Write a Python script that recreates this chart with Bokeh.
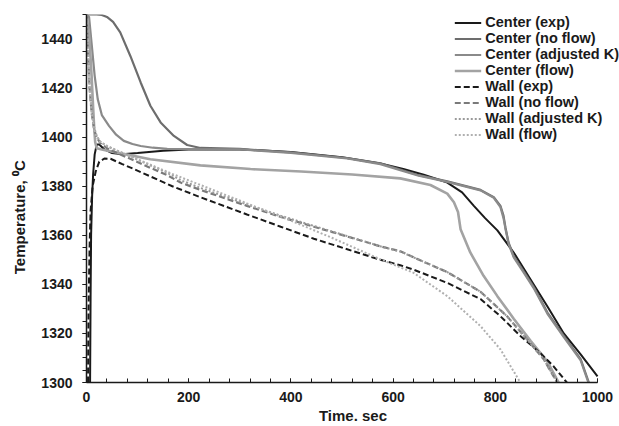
from bokeh.plotting import figure
from bokeh.models import Legend, LegendItem, Range1d, SingleIntervalTicker
from bokeh.embed import file_html
from bokeh.resources import INLINE

# ---- data ----
ce_t = [7, 8, 9, 11, 13, 16, 20, 25, 35, 50, 70, 100, 150, 200, 300, 400, 500, 575, 620, 660, 706, 735, 758, 780, 804, 836, 869, 902, 934, 967, 1000]
ce_T = [1300, 1335, 1360, 1376, 1385, 1393, 1397, 1397, 1395, 1393.5, 1393, 1393.5, 1394.5, 1395, 1395, 1394, 1391.8, 1389.3, 1387, 1384.7, 1381.5, 1377.5, 1372, 1367, 1362, 1353, 1342, 1331, 1320, 1311.5, 1302.5]

cn_t = [0, 20, 30, 40, 52, 66, 86, 106, 125, 145, 171, 197, 223, 300, 400, 510, 575, 614, 650, 706, 771, 797, 810, 816, 820, 826, 836, 855, 875, 902, 934, 967, 983]
cn_T = [1450, 1450, 1449.8, 1449, 1447, 1442.7, 1433, 1422.3, 1412.8, 1406, 1400.5, 1396.8, 1395.6, 1395.2, 1393.8, 1391.5, 1389.3, 1386.8, 1384.5, 1382, 1378.5, 1375.5, 1372, 1368, 1363, 1357, 1351.5, 1345.5, 1339, 1328.5, 1319, 1309.5, 1300]

ck_t = [0, 5, 11, 16, 22, 30, 44, 58, 73, 90, 106, 130, 158, 200, 300, 400, 510, 575, 614, 650, 706, 771, 797, 810, 816, 820, 826, 836, 855, 875, 902, 934, 967, 982]
ck_T = [1450, 1449, 1436, 1425, 1415.5, 1409, 1404.6, 1401, 1398.5, 1397.2, 1396.4, 1395.7, 1395.2, 1395.1, 1395, 1393.6, 1391.3, 1389, 1386.5, 1384.3, 1381.8, 1378.3, 1375.3, 1371.5, 1367, 1362.5, 1356.5, 1351, 1345, 1338.5, 1328, 1318.5, 1309, 1300]

cf_t = [0, 6, 10, 13, 15, 17, 20, 30, 60, 125, 223, 321, 420, 520, 614, 673, 706, 719, 727, 732, 751, 777, 804, 836, 869, 902, 924]
cf_T = [1450, 1440, 1425, 1412, 1404, 1398, 1395.5, 1395, 1393.7, 1391, 1388.5, 1387, 1386, 1384.8, 1383.2, 1380.5, 1377, 1373.5, 1369.5, 1362.5, 1353, 1343.5, 1335.2, 1326, 1317, 1308.5, 1300]

we_t = [3, 4, 6, 8, 12, 18, 25, 35, 47, 70, 93, 125, 168, 223, 314, 380, 445, 530, 575, 614, 640, 706, 771, 810, 849, 888, 914, 940]
we_T = [1300, 1330, 1355, 1370, 1380, 1386, 1390, 1391.3, 1391.2, 1389, 1387, 1384, 1380, 1375.5, 1368.5, 1363.5, 1358.6, 1353, 1350, 1347.8, 1346, 1340.6, 1334, 1327, 1319, 1312, 1306.6, 1300]

wn_t = [0, 3, 6, 10, 15, 20, 27, 40, 60, 93, 125, 158, 184, 223, 314, 380, 445, 530, 575, 614, 640, 706, 771, 823, 862, 895, 921]
wn_T = [1450, 1435, 1420, 1410, 1403, 1400, 1397.5, 1395.5, 1393.5, 1390.5, 1387.5, 1384.5, 1381.5, 1378.5, 1372, 1367.5, 1363.5, 1358.3, 1355.5, 1353.5, 1351, 1345, 1337, 1327, 1317.6, 1309.4, 1300]

wk_t = [0, 3, 6, 10, 15, 20, 27, 40, 60, 93, 125, 158, 184, 223, 314, 380, 445, 530, 575, 614, 640, 706, 771, 823, 862, 895, 921]
wk_T = [1450, 1436, 1421, 1411, 1404, 1400.5, 1398.2, 1396.3, 1394.5, 1391.5, 1388.5, 1385.5, 1382.5, 1379.3, 1372.6, 1368, 1363.8, 1358.4, 1355.5, 1353.4, 1351, 1345, 1337, 1327, 1317.6, 1309.4, 1300]

wf_t = [0, 3, 6, 10, 15, 20, 27, 40, 60, 93, 125, 168, 223, 314, 400, 480, 575, 640, 706, 771, 810, 849]
wf_T = [1450, 1435, 1420, 1410, 1403, 1400, 1398, 1396.5, 1394.5, 1391.5, 1388.8, 1385, 1380.5, 1373, 1366, 1359, 1350.2, 1344.7, 1335.2, 1323, 1313.5, 1300]

labels = ["Center (exp)", "Center (no flow)", "Center (adjusted K)", "Center (flow)",
          "Wall (exp)", "Wall (no flow)", "Wall (adjusted K)", "Wall (flow)"]

FONT = "Liberation Sans"
TXT = "#1a1a1a"

# frame spans to the right edge so the legend is not clipped; axis bounded at 1000
p = figure(width=619, height=426, output_backend="svg", toolbar_location=None,
           x_range=Range1d(0, 1043), y_range=Range1d(1300, 1450),
           min_border_left=86, min_border_right=0, min_border_top=14, min_border_bottom=43)
p.outline_line_color = None
p.xgrid.visible = False
p.ygrid.visible = False
p.background_fill_color = "white"
p.border_fill_color = "white"

series = [
    (ce_t, ce_T, "#1a1a1a", 2.0, "solid"),
    (cn_t, cn_T, "#6d6d6d", 2.2, "solid"),
    (ck_t, ck_T, "#8a8a8a", 2.2, "solid"),
    (cf_t, cf_T, "#a3a3a3", 2.6, "solid"),
    (we_t, we_T, "#1a1a1a", 2.0, "6 3"),
    (wn_t, wn_T, "#7a7a7a", 2.2, "6 3"),
    (wk_t, wk_T, "#9a9a9a", 2.0, "2 2"),
    (wf_t, wf_T, "#b0b0b0", 2.0, "2 2"),
]
renderers = []
for t, T, c, w, d in series:
    r = p.line(t, T, line_color=c, line_width=w, line_dash=d)
    renderers.append(r)

items = [LegendItem(label=lab, renderers=[r]) for lab, r in zip(labels, renderers)]
legend = Legend(items=items, location="top_right", orientation="vertical",
                padding=0, margin=0, spacing=0, label_height=15, glyph_height=15,
                glyph_width=27, label_standoff=4,
                label_text_font=FONT, label_text_font_size="14.5px",
                label_text_font_style="bold", label_text_color=TXT,
                background_fill_alpha=0, border_line_color=None)
p.add_layout(legend)

xa = p.xaxis[0]
xa.ticker = SingleIntervalTicker(interval=200, num_minor_ticks=5)
xa.bounds = (0, 1000)
xa.axis_label = "Time. sec"
ya = p.yaxis[0]
ya.ticker = SingleIntervalTicker(interval=20, num_minor_ticks=4)
# trailing no-break spaces move the visible label down, as in the reference
ya.axis_label = "Temperature, \u2070C" + "\u00a0" * 9

for ax in (xa, ya):
    ax.axis_line_color = "#1a1a1a"
    ax.axis_line_width = 1.5
    ax.major_tick_line_color = "#1a1a1a"
    ax.minor_tick_line_color = "#1a1a1a"
    ax.major_label_text_font = FONT
    ax.major_label_text_font_size = "14px"
    ax.major_label_text_font_style = "bold"
    ax.major_label_text_color = TXT
    ax.axis_label_text_font = FONT
    ax.axis_label_text_font_size = "15px"
    ax.axis_label_text_font_style = "bold"
    ax.axis_label_text_color = TXT

xa.major_tick_in = 4
xa.major_tick_out = 0
xa.minor_tick_in = 4
xa.minor_tick_out = 0
xa.major_label_standoff = 9
xa.axis_label_standoff = 2

ya.major_tick_in = 0
ya.major_tick_out = 4
ya.minor_tick_in = 0
ya.minor_tick_out = 4
ya.major_label_standoff = 10
ya.axis_label_standoff = 10

open("out.html", "w").write(file_html(p, INLINE))
